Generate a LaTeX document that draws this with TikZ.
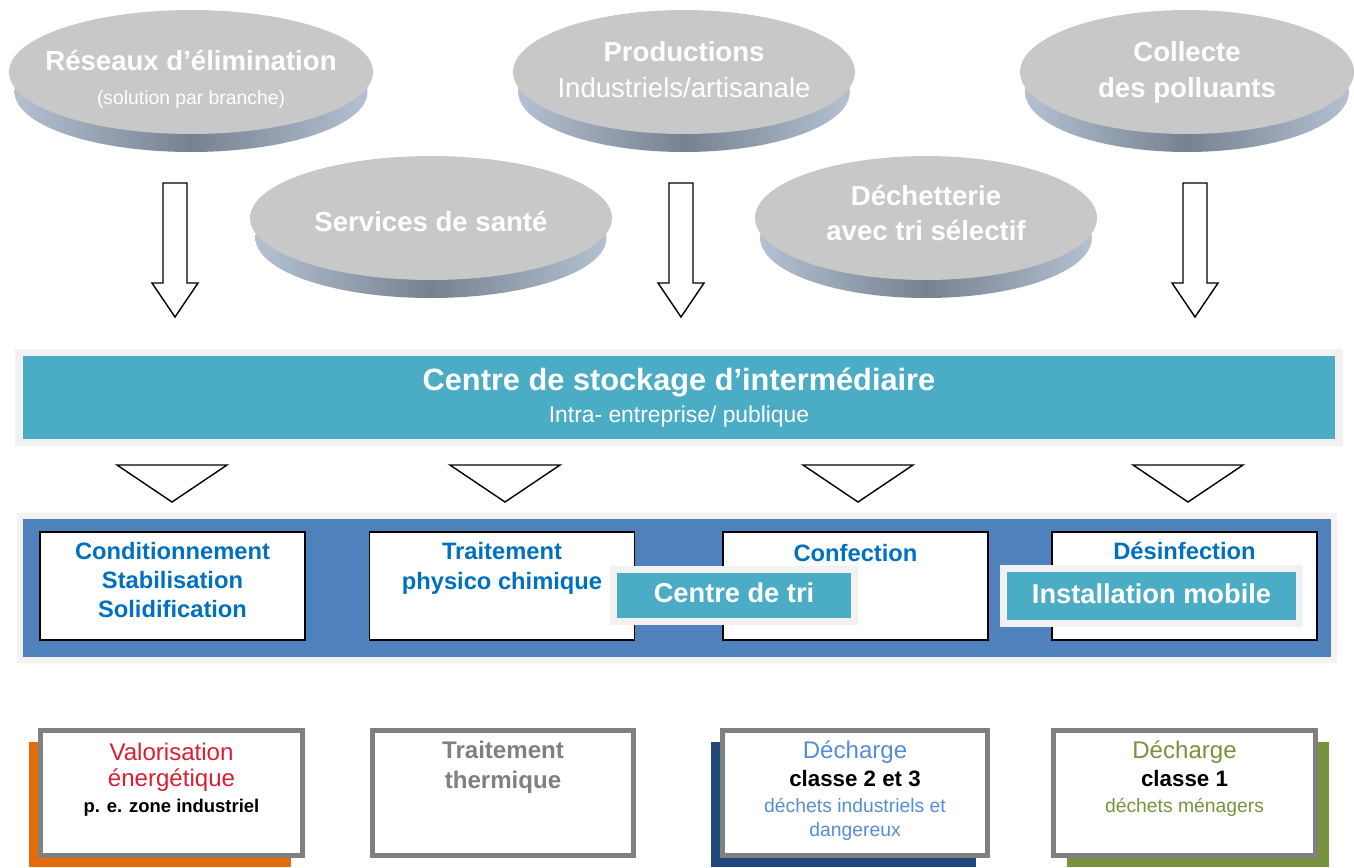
\documentclass[tikz,border=0pt]{standalone}
\usepackage{fontspec}
\setmainfont{Liberation Sans}
\usetikzlibrary{positioning,shadows}

\definecolor{discface}{HTML}{C8C8C8}
\definecolor{discedge}{HTML}{76828F}
\definecolor{discrim}{HTML}{B4C1D2}
\definecolor{stockteal}{HTML}{4BACC6}
\definecolor{panelblue}{HTML}{4F81BD}
\definecolor{framegray}{HTML}{F2F2F2}
\definecolor{txtblue}{HTML}{0070C0}
\definecolor{valred}{HTML}{DA1F32}
\definecolor{decblue}{HTML}{558ED5}
\definecolor{decolive}{HTML}{77933C}
\definecolor{navyshade}{HTML}{1F497D}
\definecolor{orangeshade}{HTML}{E46C0A}
\definecolor{boxgray}{HTML}{808080}

\begin{document}
\begin{tikzpicture}[x=0.02cm, y=-0.02cm]
  \tikzstyle{disctext}=[text=white, font=\bfseries\fontsize{15.7}{20.4}\selectfont, align=center, inner sep=0pt]
  \tikzstyle{hollow}=[draw=black, line width=0.8pt, fill=white, line join=miter]
  \tikzstyle{funnel}=[draw=black, line width=0.8pt, line join=miter]
  \tikzstyle{stockbar}=[rectangle, fill=stockteal, draw=framegray, line width=4.5pt, text=white, align=center, font=\fontsize{17.5}{18.1}\selectfont]
  \tikzstyle{panel}=[rectangle, fill=panelblue, draw=framegray, line width=3.4pt, drop shadow={shadow xshift=1.5pt, shadow yshift=-1.5pt, fill=navyshade, opacity=1}]
  \tikzstyle{procbox}=[rectangle, fill=white, draw=black, line width=0.9pt, minimum width=5.3cm, minimum height=2.16cm]
  \tikzstyle{proctext}=[text=txtblue, font=\bfseries\fontsize{13.5}{16.4}\selectfont, align=center, inner sep=0pt]
  \tikzstyle{tagbox}=[rectangle, fill=stockteal, draw=framegray, line width=4pt, text=white, font=\bfseries\fontsize{15.5}{18}\selectfont]
  \tikzstyle{sitebox}=[rectangle, fill=white, draw=boxgray, line width=2.8pt, minimum height=2.5cm]
  \tikzstyle{sitetext}=[align=center, inner sep=0pt, font=\fontsize{13.7}{14.7}\selectfont]

  \useasboundingbox (0,0) rectangle (1354,867);

  % sources
  \foreach \cx/\cy/\rx in {191/72/182, 684/72/171, 1187/72/167, 431/218/181, 926/218/171} {
    \shade[left color=discrim, right color=discrim, middle color=discedge]
      (\cx,\cy+20) ellipse [x radius=\rx*0.0194cm, y radius=1.2cm];
    \fill[discface] (\cx,\cy) ellipse [x radius=\rx*0.02cm, y radius=1.24cm];
  }
  \node[disctext] (reseaux)  at (191,79)  {Réseaux d’élimination\\[-1.1pt]{\mdseries\fontsize{11}{13}\selectfont (solution par branche)}};
  \node[disctext] (prod)     at (684,70)  {Productions\\{\mdseries Industriels/artisanale}};
  \node[disctext] (collecte) at (1187,72) {Collecte\\des polluants};
  \node[disctext] (sante)    at (431,222) {Services de santé};
  \node[disctext] (dechet)   at (926,213) {Déchetterie\\avec tri sélectif};

  % block arrows
  \foreach \ax in {175,681,1195}
    \draw[hollow] (\ax-12,183) -- (\ax+12,183) -- (\ax+12,283) -- (\ax+23,283)
      -- (\ax,317) -- (\ax-23,283) -- (\ax-12,283) -- cycle;

  % storage
  \node[stockbar, minimum width=26.4cm, minimum height=1.8cm] (stock) at (679,397.5)
    {\bfseries Centre de stockage d’intermédiaire\\{\fontsize{13}{15}\selectfont Intra- entreprise/ publique}};

  \foreach \tx in {172,505,858,1188}
    \draw[funnel] (\tx-55,465) -- (\tx+55,465) -- (\tx,502) -- cycle;

  % treatment
  \node[panel, minimum width=26.28cm, minimum height=2.87cm] (panel) at (677,588) {};

  \node[procbox] (cond)  at (172.5,586)  {};
  \node[procbox] (physi) at (502,586)    {};
  \node[procbox] (conf)  at (855.5,586)  {};
  \node[procbox] (desin) at (1184.5,586) {};
  \node[proctext, below=6.2pt of cond.north]  {Conditionnement\\Stabilisation\\Solidification};
  \node[proctext, below=6.2pt of physi.north] {Traitement\\[0.8pt]physico chimique};
  \node[proctext, below=7.3pt of conf.north]  {Confection};
  \node[proctext, below=6.2pt of desin.north] {Désinfection};

  \node[tagbox, minimum width=4.82cm, minimum height=1.04cm, text depth=0.3em] (tri) at (734,595.5) {Centre de tri};
  \node[tagbox, minimum width=5.92cm, minimum height=1.1cm, text depth=0.3em,
        drop shadow={shadow xshift=1.2pt, shadow yshift=-1.2pt, fill=black!70, opacity=1}] (mobile) at (1151.5,596) {Installation mobile};

  % outlets
  \node[sitebox, minimum width=5.24cm, drop shadow={shadow xshift=-6.8pt, shadow yshift=-6.8pt, fill=orangeshade, opacity=1}] (valor) at (171.5,793) {};
  \node[sitebox, minimum width=5.22cm] (thermo) at (503,793) {};
  \node[sitebox, minimum width=5.3cm, drop shadow={shadow xshift=-6.8pt, shadow yshift=-6.8pt, fill=navyshade, opacity=1}] (dech23) at (855,793) {};
  \node[sitebox, minimum width=5.24cm, drop shadow={shadow xshift=7.4pt, shadow yshift=-6.8pt, fill=decolive, opacity=1}] (dech1) at (1184.5,793) {};

  \node[sitetext, text=valred, below=8.5pt of valor.north]
    {Valorisation\\énergétique\\{\color{black}\bfseries\fontsize{10.5}{12}\selectfont p. e. zone industriel}};
  \node[sitetext, text=boxgray, below=7pt of thermo.north]
    {\bfseries Traitement\\[2.3pt]\bfseries thermique};
  \node[sitetext, text=decblue, below=7pt of dech23.north]
    {Décharge\\[1.2pt]{\color{black}\bfseries\fontsize{12.7}{14}\selectfont classe 2 et 3}\\{\fontsize{11}{13}\selectfont déchets industriels et}\\[-1pt]{\fontsize{11}{13}\selectfont dangereux}};
  \node[sitetext, text=decolive, below=7pt of dech1.north]
    {Décharge\\[1.2pt]{\color{black}\bfseries\fontsize{12.7}{14}\selectfont classe 1}\\{\fontsize{11}{13}\selectfont déchets ménagers}};
\end{tikzpicture}
\end{document}
